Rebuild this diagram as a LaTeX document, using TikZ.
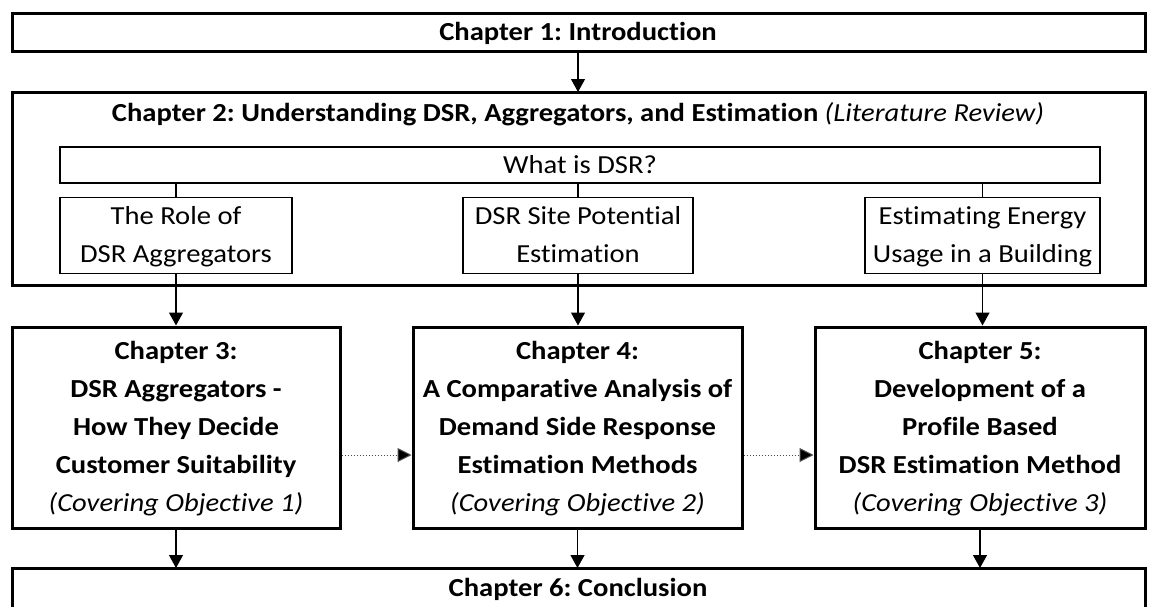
\documentclass[tikz,border=0pt]{standalone}
\usepackage{fontspec}
\setmainfont{Carlito}[FakeStretch=1.1,Ligatures=NoCommon]
\usetikzlibrary{arrows.meta}
\frenchspacing
\newcommand{\ls}{\rule[-11pt]{0pt}{38pt}}
\begin{document}
\begin{tikzpicture}[x=1pt,y=-1pt,
  outer/.style={draw=black,line width=3pt},
  inner/.style={draw=black,line width=1.4pt},
  txt/.style={font=\fontsize{26}{38}\selectfont,align=center,inner sep=0pt},
  btxt/.style={font=\fontsize{26}{38}\selectfont\bfseries,align=center,inner sep=0pt},
  arr/.style={line width=1.2pt,-{Triangle[width=14pt,length=13pt]}},
  link/.style={line width=1.2pt},
  dotarr/.style={line width=1pt,dotted,draw=black!70,-{Triangle[width=14pt,length=14pt,fill=black]}}]
\useasboundingbox[fill=white] (0,0) rectangle (1149,606);
\clip (0,0) rectangle (1149,606);
% boxes
\draw[outer] (12,13) rectangle (1145,51);
\node[btxt] (c1) at (578,33) {Chapter 1: Introduction};
\coordinate (c1b) at (578,51);
\draw[outer] (12,92) rectangle (1145,285);
\coordinate (c2t) at (578,92);
\node[btxt] (c2) at (578,114) {Chapter 2: Understanding DSR, Aggregators, and Estimation \textmd{\itshape(Literature Review)}};
\node[inner,minimum width=1040pt,minimum height=36pt,txt] (what) at (580,165) {What is DSR?};
\node[inner,minimum width=232pt,minimum height=73pt,txt] (role) at (176,235.5) {\ls The Role of\\\ls DSR Aggregators};
\node[inner,minimum width=230pt,minimum height=73pt,txt] (site) at (578,235.5) {\ls DSR Site Potential\\\ls Estimation};
\node[inner,minimum width=235pt,minimum height=73pt,txt] (energy) at (982.5,235.5) {\ls Estimating Energy\\\ls Usage in a Building};
\node[outer,minimum width=328pt,minimum height=201pt,btxt] (c3) at (176,427.5) {\ls Chapter 3:\\\ls DSR Aggregators -\\\ls How They Decide\\\ls Customer Suitability\\\ls\textmd{\itshape(Covering Objective 1)}};
\node[outer,minimum width=329pt,minimum height=201pt,btxt] (c4) at (577.5,427.5) {\ls Chapter 4:\\\ls A Comparative Analysis of\\\ls Demand Side Response\\\ls Estimation Methods\\\ls\textmd{\itshape(Covering Objective 2)}};
\node[outer,minimum width=330pt,minimum height=201pt,btxt] (c5) at (980,427.5) {\ls Chapter 5:\\\ls Development of a\\\ls Profile Based\\\ls DSR Estimation Method\\\ls\textmd{\itshape(Covering Objective 3)}};
\draw[outer] (12,568) rectangle (1145,640);
\node[btxt] (c6) at (578,589) {Chapter 6: Conclusion};
\coordinate (c6t) at (578,568);
% connectors
\draw[arr] (c1b) -- (c2t);
\draw[link] (what.south -| role.north) -- (role.north);
\draw[link] (what.south -| site.north) -- (site.north);
\draw[link] (what.south -| energy.north) -- (energy.north);
\draw[arr] (role.south) -- (role.south |- c3.north);
\draw[arr] (site.south) -- (site.south |- c4.north);
\draw[arr] (energy.south) -- (energy.south |- c5.north);
\draw[dotarr] ([yshift=-27.5pt]c3.east) -- ([yshift=-27.5pt]c4.west);
\draw[dotarr] ([yshift=-27.5pt]c4.east) -- ([yshift=-27.5pt]c5.west);
\draw[arr] (c3.south) -- (c3.south |- c6t);
\draw[arr] (c4.south) -- (c4.south |- c6t);
\draw[arr] (c5.south) -- (c5.south |- c6t);
\end{tikzpicture}
\end{document}
